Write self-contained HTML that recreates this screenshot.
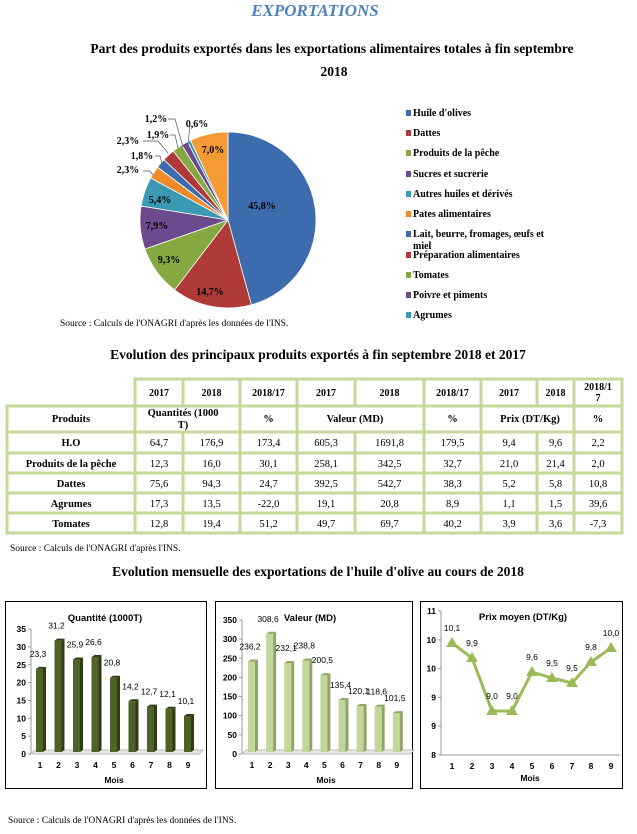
<!DOCTYPE html>
<html><head><meta charset="utf-8"><style>
body{margin:0;background:#fff;}
svg{display:block;font-family:"Liberation Serif",serif;}
.s{font-family:"Liberation Sans",sans-serif;}
</style></head><body>
<svg id="p" width="637" height="834" viewBox="0 0 637 834" xmlns="http://www.w3.org/2000/svg">
<text x="315" y="16" text-anchor="middle" font-size="17" font-weight="bold" font-style="italic" fill="#4f81bd">EXPORTATIONS</text>
<text x="332" y="53" text-anchor="middle" font-size="13.5" font-weight="bold">Part des produits exportés dans les exportations alimentaires totales à fin septembre</text>
<text x="334" y="76" text-anchor="middle" font-size="13.5" font-weight="bold">2018</text>
<g id="pie"></g>
<g font-size="10" font-weight="bold" id="plab">
<text x="262" y="209" text-anchor="middle">45,8%</text>
<text x="210" y="295" text-anchor="middle">14,7%</text>
<text x="169" y="263" text-anchor="middle">9,3%</text>
<text x="157" y="229" text-anchor="middle">7,9%</text>
<text x="160" y="203" text-anchor="middle">5,4%</text>
<text x="213" y="153" text-anchor="middle">7,0%</text>
<text x="128" y="173" text-anchor="middle">2,3%</text>
<text x="142" y="159" text-anchor="middle">1,8%</text>
<text x="128" y="144" text-anchor="middle">2,3%</text>
<text x="158" y="138" text-anchor="middle">1,9%</text>
<text x="156" y="122" text-anchor="middle">1,2%</text>
<text x="197" y="127" text-anchor="middle">0,6%</text>
</g>
<g stroke="#555" stroke-width="0.7" fill="none">
<polyline points="143,171 150,171 153,175"/>
<polyline points="155,156 160,156 162,163"/>
<polyline points="143,141 158,141 168,153"/>
<polyline points="170,135 175,135 178,148"/>
<polyline points="168,119 175,119 183,147"/>
<polyline points="190,124 188,145"/>
</g>
<g font-size="10" font-weight="bold" id="leg"></g>
<text x="60" y="326" font-size="9.5">Source : Calculs de l'ONAGRI  d'après les données de l'INS.</text>

<text x="318" y="359" text-anchor="middle" font-size="13.5" font-weight="bold">Evolution des principaux produits exportés à fin septembre 2018 et 2017</text>
<g id="tbl"></g>
<text x="10" y="551" font-size="9.5">Source : Calculs de l'ONAGRI d'après l'INS.</text>

<text x="318" y="576" text-anchor="middle" font-size="13.5" font-weight="bold">Evolution mensuelle des exportations de l'huile d'olive au cours de 2018</text>
<g fill="none" stroke="#000" stroke-width="1">
<rect x="5.5" y="601.5" width="201" height="187"/>
<rect x="215.5" y="601.5" width="197" height="187"/>
<rect x="420.5" y="601.5" width="202" height="187"/>
</g>
<g id="ch" class="s"></g>
<text x="8" y="823" font-size="9.5">Source : Calculs de l'ONAGRI  d'après les données de l'INS.</text>
</svg>
<script>
var NS="http://www.w3.org/2000/svg";
function el(p,t,a,txt){var e=document.createElementNS(NS,t);for(var k in a)e.setAttribute(k,a[k]);if(txt!=null)e.textContent=txt;p.appendChild(e);return e;}
// pie
var vals=[45.8,14.7,9.3,7.9,5.4,2.3,1.8,2.3,1.9,1.2,0.6,7.0];
var cols=["#3d6cae","#b03a37","#86a840","#6c4a8e","#3a9ab4","#ef8a2a","#3d6cae","#b03a37","#86a840","#6c4a8e","#3a9ab4","#f59a35"];
var tot=vals.reduce(function(a,b){return a+b},0),cx=228,cy=220,r=88,a0=-Math.PI/2,pie=document.getElementById("pie");
vals.forEach(function(v,i){var a1=a0+v/tot*2*Math.PI;var x0=cx+r*Math.cos(a0),y0=cy+r*Math.sin(a0),x1=cx+r*Math.cos(a1),y1=cy+r*Math.sin(a1);
el(pie,"path",{d:"M"+cx+","+cy+"L"+x0+","+y0+"A"+r+","+r+" 0 "+(a1-a0>Math.PI?1:0)+" 1 "+x1+","+y1+"Z",fill:cols[i],stroke:"#fff","stroke-width":"0.8"});a0=a1;});
// legend
var L=[["Huile d'olives",116],["Dattes",136],["Produits de la pêche",156],["Sucres et sucrerie",177],["Autres huiles et dérivés",197],["Pates alimentaires",217],["Lait, beurre, fromages, œufs et",237],["Préparation alimentaires",258],["Tomates",278],["Poivre et piments",298],["Agrumes",318]];
var lc=["#3d6cae","#b03a37","#86a840","#6c4a8e","#3a9ab4","#ef8a2a","#3d6cae","#b03a37","#86a840","#6c4a8e","#3a9ab4"];
var lg=document.getElementById("leg");
L.forEach(function(l,i){el(lg,"rect",{x:406,y:l[1]-6,width:5,height:6,fill:lc[i]});el(lg,"text",{x:413,y:l[1]},l[0]);});
el(lg,"text",{x:413,y:249},"miel");
// table
var tb=document.getElementById("tbl");
var cx_=[7,135,183,240,297,355,424,481,537,574,622];
var ry=[379,406,432,453,473,493,513,533];
var C="#c5d99b";
el(tb,"rect",{x:135,y:379,width:487,height:154,fill:"none",stroke:C,"stroke-width":3});
el(tb,"rect",{x:7,y:406,width:615,height:127,fill:"none",stroke:C,"stroke-width":3});
for(var i=1;i<ry.length-1;i++){el(tb,"line",{x1:7,y1:ry[i],x2:622,y2:ry[i],stroke:C,"stroke-width":3});}
for(var j=1;j<cx_.length-1;j++){
 if(j==2||j==5||j==8){el(tb,"line",{x1:cx_[j],y1:379,x2:cx_[j],y2:406,stroke:C,"stroke-width":3});el(tb,"line",{x1:cx_[j],y1:432,x2:cx_[j],y2:533,stroke:C,"stroke-width":3});}
 else el(tb,"line",{x1:cx_[j],y1:j==1?406:379,x2:cx_[j],y2:533,stroke:C,"stroke-width":3});}
function ct(j){return (cx_[j]+cx_[j+1])/2;}
var h=["2017","2018","2018/17","2017","2018","2018/17","2017","2018"];
h.forEach(function(t,k){el(tb,"text",{x:ct(k+1),y:396,"text-anchor":"middle","font-size":"10","font-weight":"bold"},t);});
el(tb,"text",{x:ct(9),y:390,"text-anchor":"middle","font-size":"10","font-weight":"bold"},"2018/1");
el(tb,"text",{x:ct(9),y:401,"text-anchor":"middle","font-size":"10","font-weight":"bold"},"7");
var b={"font-size":"10.5","font-weight":"bold","text-anchor":"middle"};
function T(x,y,t,a){var o={x:x,y:y};for(var k in a)o[k]=a[k];el(tb,"text",o,t);}
T(71,422,"Produits",b);T(183,416,"Quantités (1000",b);T(183,428,"T)",b);T(ct(3),422,"%",b);T(355,422,"Valeur (MD)",b);T(ct(6),422,"%",b);T(530,422,"Prix (DT/Kg)",b);T(ct(9),422,"%",b);
var rows=[["H.O","64,7","176,9","173,4","605,3","1691,8","179,5","9,4","9,6","2,2"],["Produits de la pêche","12,3","16,0","30,1","258,1","342,5","32,7","21,0","21,4","2,0"],["Dattes","75,6","94,3","24,7","392,5","542,7","38,3","5,2","5,8","10,8"],["Agrumes","17,3","13,5","-22,0","19,1","20,8","8,9","1,1","1,5","39,6"],["Tomates","12,8","19,4","51,2","49,7","69,7","40,2","3,9","3,6","-7,3"]];
rows.forEach(function(r,i){var y=ry[i+2]+14;r.forEach(function(t,k){T(ct(k),y,t,k==0?b:{"font-size":"10.5","text-anchor":"middle"});});});
// charts
var ch=document.getElementById("ch");
function bar(x0,sp,ax,y0,scale,max,step,data,col,dark,title,tx){
 el(ch,"text",{x:tx,y:621,"text-anchor":"middle","font-size":"9.5","font-weight":"bold"},title);
 el(ch,"line",{x1:ax,y1:y0,x2:ax,y2:y0-max*scale,stroke:"#999"});
 el(ch,"polyline",{points:ax+","+y0+" "+(ax+4)+","+(y0-4)+" "+(ax+172)+","+(y0-4)+" "+(ax+168)+","+y0+" "+ax+","+y0,fill:"#e8e8e8",stroke:"#bbb"});
 for(var v=0;v<=max;v+=step){var y=y0-v*scale;el(ch,"text",{x:ax-5,y:y+3,"text-anchor":"end","font-size":"8.5","font-weight":"bold"},v);el(ch,"line",{x1:ax-3,y1:y,x2:ax,y2:y,stroke:"#999"});}
 data.forEach(function(d,i){var xc=x0+i*sp,hh=d*scale;
  el(ch,"rect",{x:xc-4,y:y0-hh-2,width:7,height:hh,fill:col});
  el(ch,"polygon",{points:(xc+3)+","+(y0-hh-2)+" "+(xc+6)+","+(y0-hh-4)+" "+(xc+6)+","+(y0-4)+" "+(xc+3)+","+(y0-2),fill:dark});
  el(ch,"polygon",{points:(xc-4)+","+(y0-hh-2)+" "+(xc-1)+","+(y0-hh-4)+" "+(xc+6)+","+(y0-hh-4)+" "+(xc+3)+","+(y0-hh-2),fill:dark});
  el(ch,"text",{x:xc,y:768,"text-anchor":"middle","font-size":"8.5","font-weight":"bold"},i+1);
  el(ch,"text",{x:xc-2,y:y0-hh-14,"text-anchor":"middle","font-size":"8.5"},String(d).replace(".",","));});
 el(ch,"text",{x:x0+74,y:783,"text-anchor":"middle","font-size":"8.5","font-weight":"bold"},"Mois");}
bar(40,18.5,31,754,3.57,35,5,[23.3,31.2,25.9,26.6,20.8,14.2,12.7,12.1,10.1],"#4f6228","#2f3c15","Quantité (1000T)",105);
bar(252,18.1,242,754,0.383,350,50,[236.2,308.6,232.1,238.8,200.5,135.4,120.1,118.6,101.5],"#c3d69b","#8fa566","Valeur (MD)",310);
// line
el(ch,"text",{x:523,y:620,"text-anchor":"middle","font-size":"9.5","font-weight":"bold"},"Prix moyen (DT/Kg)");
el(ch,"line",{x1:441,y1:611,x2:441,y2:755,stroke:"#999"});el(ch,"line",{x1:441,y1:755,x2:620,y2:755,stroke:"#999"});
["11","10","10","9","9","8"].forEach(function(t,i){var y=611+i*28.8;el(ch,"text",{x:436,y:y+3,"text-anchor":"end","font-size":"8.5","font-weight":"bold"},t);el(ch,"line",{x1:438,y1:y,x2:441,y2:y,stroke:"#999"});});
var px=[452,472,492,512,532,552,572,591,611],py=[643,658,711,711,672,678,683,662,648],pl=["10,1","9,9","9,0","9,0","9,6","9,5","9,5","9,8","10,0"];
el(ch,"polyline",{points:px.map(function(x,i){return x+","+py[i]}).join(" "),fill:"none",stroke:"#9bbb59","stroke-width":"3"});
px.forEach(function(x,i){var y=py[i];el(ch,"polygon",{points:x+","+(y-6)+" "+(x-6)+","+(y+4)+" "+(x+6)+","+(y+4),fill:"#9bbb59"});
 el(ch,"text",{x:x,y:y-12,"text-anchor":"middle","font-size":"8.5"},pl[i]);
 el(ch,"text",{x:x,y:769,"text-anchor":"middle","font-size":"8.5","font-weight":"bold"},i+1);});
el(ch,"text",{x:530,y:781,"text-anchor":"middle","font-size":"8.5","font-weight":"bold"},"Mois");
</script>
</body></html>
